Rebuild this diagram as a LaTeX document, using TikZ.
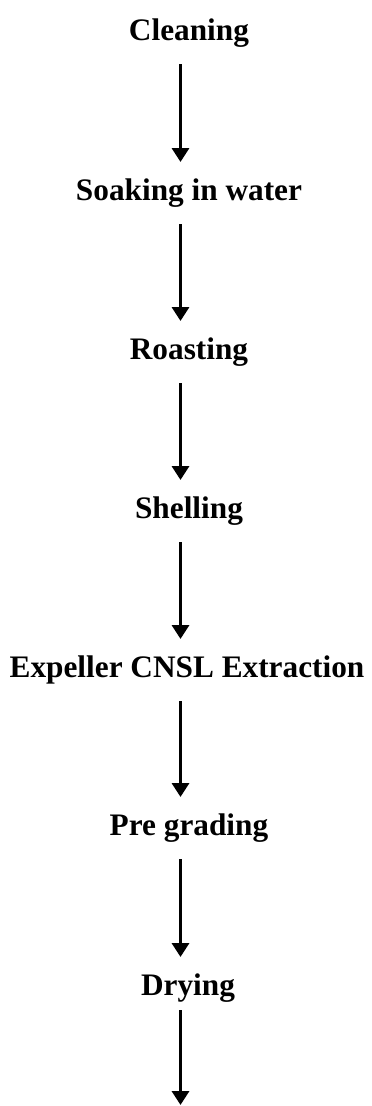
\documentclass[tikz,border=0pt]{standalone}
\usepackage{fontspec}
\setmainfont{Liberation Serif}
\usetikzlibrary{arrows.meta,calc}
\begin{document}
\begin{tikzpicture}[x=1pt,y=-1pt,
  lbl/.style={anchor=base,inner sep=0pt,font=\fontsize{31.3}{36}\selectfont\bfseries},
  arr/.style={line width=3.3pt,-{Triangle[width=17pt,length=14pt]}}]
\useasboundingbox (0,0) rectangle (372,1106);
\node[lbl] (n1) at (189,40) {Cleaning};
\node[lbl] (n2) at (189,200) {Soaking in water};
\node[lbl] (n3) at (189,359) {Roasting};
\node[lbl] (n4) at (189,518) {Shelling};
\node[lbl] (n5) at (187,677) {Expeller CNSL Extraction};
\node[lbl] (n6) at (189,835) {Pre grading};
\node[lbl] (n7) at (188,995) {Drying};
\coordinate (end) at (180.5,1105);
\foreach \a/\b in {n1/n2,n2/n3,n3/n4,n4/n5,n5/n6,n6/n7}{
  \draw[arr] let \p1=(\a.base), \p2=(\b.base), \p3=(end) in
    (\x3,\y1-24pt) -- (\x3,\y2+38pt);
}
\draw[arr] let \p1=(n7.base), \p3=(end) in (\x3,\y1-15pt) -- (end);
\end{tikzpicture}
\end{document}
